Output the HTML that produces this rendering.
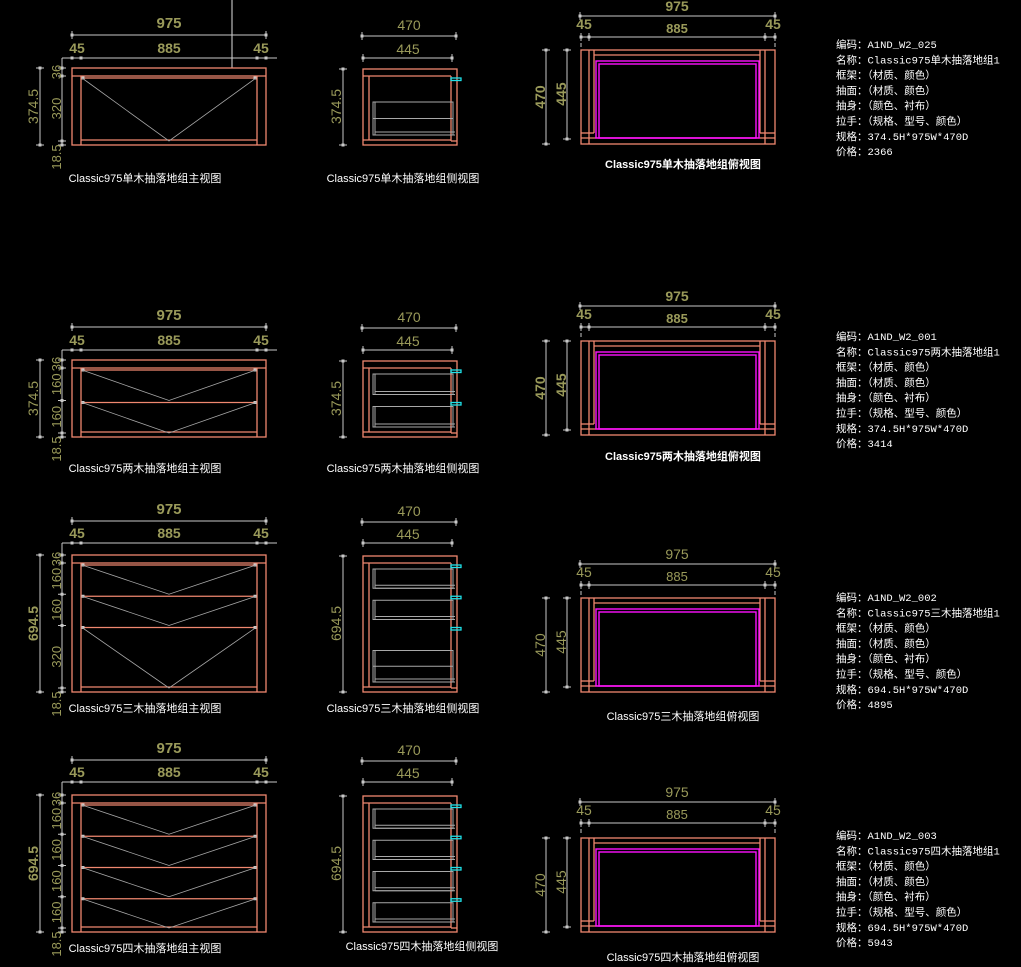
<!DOCTYPE html><html><head><meta charset="utf-8"><style>
html,body{margin:0;padding:0;background:#000;width:1021px;height:967px;overflow:hidden}
svg{display:block}
.t{font-family:"Liberation Sans","Noto Sans CJK SC",sans-serif;fill:#fff;font-size:11px}
.i{font-family:"Liberation Mono","Noto Sans CJK SC",monospace;fill:#fff;font-size:10.5px}
.d{font-family:"Liberation Sans",sans-serif;fill:#9a9a5a}
</style></head><body>
<svg id="s" width="1021" height="967" xmlns="http://www.w3.org/2000/svg"></svg>
<script>
var S=document.getElementById('s'),o='';
var OR='#f08870',GR='#a8a8a8',DM='#c8c8c8',MG='#ff10ff',CY='#20e0e8';
function L(x1,y1,x2,y2,c,w){o+='<line x1="'+x1+'" y1="'+y1+'" x2="'+x2+'" y2="'+y2+'" stroke="'+(c||DM)+'" stroke-width="'+(w||(c==OR?1.3:1))+'"/>';}
function R(x,y,w,h,c,sw){o+='<rect x="'+x+'" y="'+y+'" width="'+w+'" height="'+h+'" fill="none" stroke="'+c+'" stroke-width="'+(sw||(c==OR||c==CY?1.3:1))+'"/>';}
function T(x,y,s,cls,sz,b,rot,anchor){o+='<text class="'+cls+'" x="'+x+'" y="'+y+'" '+(sz?'font-size="'+sz+'" ':'')+(b?'font-weight="bold" ':'')+'text-anchor="'+(anchor||'middle')+'"'+(rot?' transform="rotate(-90 '+x+' '+y+')"':'')+'>'+s+'</text>';}
function dot(x,y){o+='<rect x="'+(x-1.5)+'" y="'+(y-1.5)+'" width="3" height="3" fill="'+DM+'"/>';}
function hd(x1,x2,y,ticks){L(x1,y,x2,y);(ticks||[x1,x2]).forEach(function(x){dot(x,y);L(x,y-4,x,y+4);});}
function vd(x,y1,y2,ticks){L(x,y1,x,y2);(ticks||[y1,y2]).forEach(function(y){dot(x,y);L(x-4,y,x+4,y);});}
var rows=[
 {T:68,H:77,dr:[320],name:'单木',tall:'374.5',d1:35,d2:58,tv:50,tvd1:16,tvd2:37,tb:true,info:44,code:'A1ND_W2_025',price:'2366',tt:168,ft:182,st:182,bold:false},
 {T:360,H:77,dr:[160,160],name:'两木',tall:'374.5',d1:327,d2:350,tv:341,tvd1:306,tvd2:327,tb:true,info:336,code:'A1ND_W2_001',price:'3414',tt:460,ft:472,st:472,bold:false},
 {T:555,H:137,dr:[160,160,320],name:'三木',tall:'694.5',d1:521,d2:543,tv:598,tvd1:564,tvd2:585,tb:false,info:597,code:'A1ND_W2_002',price:'4895',tt:720,ft:712,st:712,bold:true},
 {T:795,H:137,dr:[160,160,160,160],name:'四木',tall:'694.5',d1:760,d2:782,tv:838,tvd1:802,tvd2:823,tb:false,info:835,code:'A1ND_W2_003',price:'5943',tt:961,ft:952,st:950,bold:true}
];
L(232,0,232,68,'#e0e0e0');
rows.forEach(function(r,ri){
 var T0=r.T,B=r.T+r.H;
 R(72,T0,194,r.H,OR);L(72,T0+8,266,T0+8,OR);L(81,T0+8,81,B,OR);L(257,T0+8,257,B,OR);L(81,B-5,257,B-5,OR);
 var y=T0+8,ys=[T0,T0+8];
 r.dr.forEach(function(h){var hh=h*0.2*(r.H/77>1.5?(137-12)/(640*0.2):(77-12)/(r.dr.reduce(function(a,b){return a+b},0)*0.2));
   L(82,y+2,256,y+2,OR);dot(83,y+2);dot(255,y+2);
   o+='<polyline points="82,'+(y+2)+' 169,'+(y+hh)+' 256,'+(y+2)+'" fill="none" stroke="'+GR+'" stroke-width="0.8"/>';
   y+=hh;ys.push(y);});
 ys.push(B);
 hd(72,266,r.d1);T(169,r.d1-7,'975','d',15,true);
 L(62,r.d2,277,r.d2);[72,81,257,266].forEach(function(x){dot(x,r.d2);});L(62,r.d2,62,T0);
 T(77,r.d2-5,'45','d',14,true);T(169,r.d2-5,'885','d',14,true);T(261,r.d2-5,'45','d',14,true);
 vd(40,T0,B);T(38,(T0+B)/2,r.tall,'d',14,r.bold,true);
 vd(62,T0,B,ys);
 T(61,T0+4,'36','d',13,false,true);
 for(var k=0;k<r.dr.length;k++){T(61,(ys[k+1]+ys[k+2])/2,String(r.dr[k]),'d',13,false,true);}
 T(61,B+12,'18.5','d',13,false,true);
 T(145,r.ft,'Classic975'+r.name+'抽落地组主视图','t',11,false,false);
 R(363,T0+1,94,r.H-1,OR);L(363,T0+8,451,T0+8,OR);L(369,T0+8,369,B-5,OR);L(363,B-5,451,B-5,OR);L(451,T0+8,451,B-4,OR);L(451,B-4,457,B-4,OR);
 for(var k=0;k<r.dr.length;k++){var a=ys[k+1],b=ys[k+2];
   R(451,a+2,10,2.5,CY);
   var top=(r.dr[k]==320?a+(b-a)*0.4:a+6), bot=b-6;
   R(373,top,80,bot-top,GR);L(375,top,375,bot,GR);L(375,bot-3,455,bot-3,GR);L(375,bot,455,bot,GR);
   if(r.dr[k]==320)L(373,(top+bot)/2,453,(top+bot)/2,GR);}
 hd(362,456,r.d1+1);T(409,r.d1-5,'470','d',14);
 hd(363,452,r.d2);T(408,r.d2-4,'445','d',14);
 vd(343,T0+1,B);T(341,(T0+B)/2,r.tall,'d',14,false,true);
 T(ri==3?422:403,r.st,'Classic975'+r.name+'抽落地组侧视图','t',11);
 var t=r.tv,tb=t+94;
 R(581,t,194,94,OR);L(589,t,589,tb-6,OR);L(594,t,594,tb-11,OR);L(760,t,760,tb-11,OR);L(765,t,765,tb-6,OR);
 L(594,t+5,760,t+5,OR);L(581,tb-11,594,tb-11,OR);L(760,tb-11,775,tb-11,OR);L(581,tb-6,775,tb-6,OR);L(589,tb-6,589,tb,OR);L(765,tb-6,765,tb,OR);
 R(596,t+11,163,tb-6-t-11,MG,1.4);R(599,t+14,157,tb-6-t-14,MG,1.4);
 hd(580,775,r.tvd1);T(677,r.tvd1-5,'975','d',14,r.tb);
 L(581,r.tvd2+6,581,r.tvd2+10);L(775,r.tvd2+6,775,r.tvd2+10);
 hd(581,775,r.tvd2,[581,589,765,775]);T(677,r.tvd2-4,'885','d',13,r.tb);
 T(584,r.tvd2-8,'45','d',14,r.tb);T(773,r.tvd2-8,'45','d',14,r.tb);
 vd(546,t,tb);T(545,(t+tb)/2,'470','d',14,r.tb,true);
 vd(567,t,tb-5);T(566,(t+tb)/2-3,'445','d',14,r.tb,true);
 T(683,r.tt,'Classic975'+r.name+'抽落地组俯视图','t',11,r.tb);
 var L8=['编码：'+r.code,'名称：Classic975'+r.name+'抽落地组1','框架：（材质、颜色）','抽面：（材质、颜色）','抽身：（颜色、衬布）','拉手：（规格、型号、颜色）','规格：'+r.tall+'H*975W*470D','价格：'+r.price];
 L8.forEach(function(s,j){T(836,r.info+j*15.3+4,s,'i',10.5,false,false,'start');});
});
S.innerHTML=o;
</script></body></html>
